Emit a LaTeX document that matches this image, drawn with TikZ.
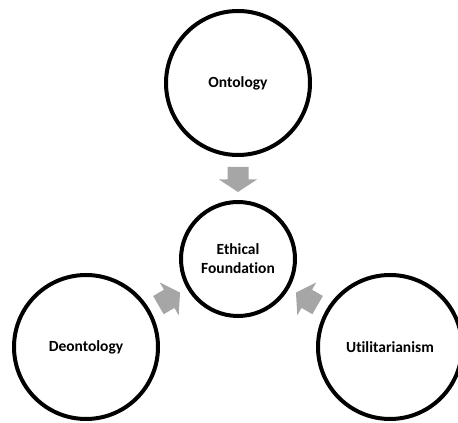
\documentclass[tikz,border=0pt]{standalone}
\usepackage{fontspec}
\setmainfont{Carlito}[Ligatures=NoCommon]
\usetikzlibrary{calc}
\definecolor{arrowgray}{RGB}{166,166,166}
\tikzset{
  bigcirc/.style={circle, draw=black, line width=4pt, minimum size=144pt, inner sep=0pt,
    font=\fontsize{15.5}{18}\selectfont\bfseries, align=center},
  hubcirc/.style={circle, draw=black, line width=4pt, minimum size=114pt, inner sep=0pt,
    font=\fontsize{15.5}{19}\selectfont\bfseries, align=center},
  blockarrow/.style={fill=arrowgray, draw=none}
}
\newcommand{\blockarr}[2]{%
  \begin{scope}[shift={(#1)}, rotate=#2]
    \fill[blockarrow] (-12.5pt,-10.5pt) -- (0pt,-10.5pt) -- (0pt,-19pt) -- (12.5pt,0pt)
      -- (0pt,19pt) -- (0pt,10.5pt) -- (-12.5pt,10.5pt) -- cycle;
  \end{scope}}
\begin{document}
\begin{tikzpicture}[x=1pt,y=1pt]
  \useasboundingbox (0,0) rectangle (458,423);
  \node[hubcirc] (c) at (238,164) {Ethical\\Foundation};
  \node[bigcirc] (o) at (238,340) {Ontology};
  \node[bigcirc] (d) at (86,76) {Deontology};
  \node[bigcirc] (u) at (390,76) {Utilitarianism};
  \coordinate (ao) at ($(c)!79.5pt!(o)$);
  \coordinate (ad) at ($(c)!79.5pt!(d)$);
  \coordinate (au) at ($(c)!79.5pt!(u)$);
  \blockarr{ao}{-90}
  \blockarr{ad}{30}
  \blockarr{au}{150}
\end{tikzpicture}
\end{document}
